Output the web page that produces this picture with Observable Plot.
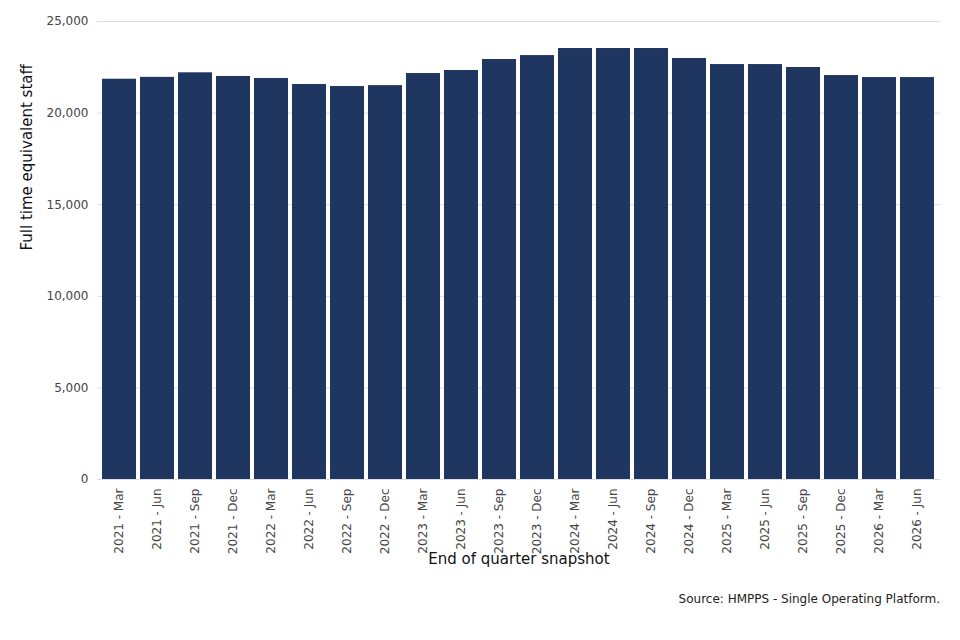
<!DOCTYPE html>
<html><head><meta charset="utf-8">
<script src="https://cdn.jsdelivr.net/npm/d3@7"></script>
<script src="https://cdn.jsdelivr.net/npm/@observablehq/plot@0.6"></script>
<style>body{margin:0;font-family:"DejaVu Sans",sans-serif;background:#fff}
#cap{width:940px;text-align:right;font-size:12px;color:#222;margin-top:2px}</style>
</head><body><div id="c"></div><div id="cap">Source: HMPPS - Single Operating Platform.</div>
<script>
const quarters=["2021 - Mar","2021 - Jun","2021 - Sep","2021 - Dec","2022 - Mar","2022 - Jun","2022 - Sep","2022 - Dec","2023 - Mar","2023 - Jun","2023 - Sep","2023 - Dec","2024 - Mar","2024 - Jun","2024 - Sep","2024 - Dec","2025 - Mar","2025 - Jun","2025 - Sep","2025 - Dec","2026 - Mar","2026 - Jun"];
const fte=[21850,21950,22200,22000,21890,21560,21450,21500,22160,22325,22925,23140,23525,23525,23525,22980,22650,22650,22490,22050,21940,21940];
const yTicks=[0,5000,10000,15000,20000,25000];
const data=quarters.map((q,i)=>({q,v:fte[i]}));
const chart=Plot.plot({
 width:960,height:590,marginLeft:97,marginRight:20,marginTop:21,marginBottom:111,
 style:{fontFamily:"DejaVu Sans, sans-serif",fontSize:"12px",color:"#444"},
 x:{domain:quarters,padding:0.1,label:null,tickRotate:-90,tickSize:0},
 y:{domain:[0,25000],ticks:yTicks,label:null,tickFormat:d3.format(","),tickSize:0},
 marks:[
  Plot.gridY(yTicks,{stroke:"#ddd",strokeOpacity:1}),
  Plot.barY(data,{x:"q",y:"v",fill:"#1f3661"}),
  Plot.text(["End of quarter snapshot"],{frameAnchor:"bottom",dy:84,fontSize:15,fill:"#111"}),
  Plot.text(["Full time equivalent staff"],{frameAnchor:"left",dx:-70,rotate:-90,fontSize:15,fill:"#111"})
 ]});
d3.select(chart).selectAll("text").filter(function(){return this.parentNode.getAttribute("aria-label")==="x-axis tick label"||this.parentNode.getAttribute("aria-label")==="y-axis tick label"});
document.getElementById("c").appendChild(chart);
</script></body></html>
